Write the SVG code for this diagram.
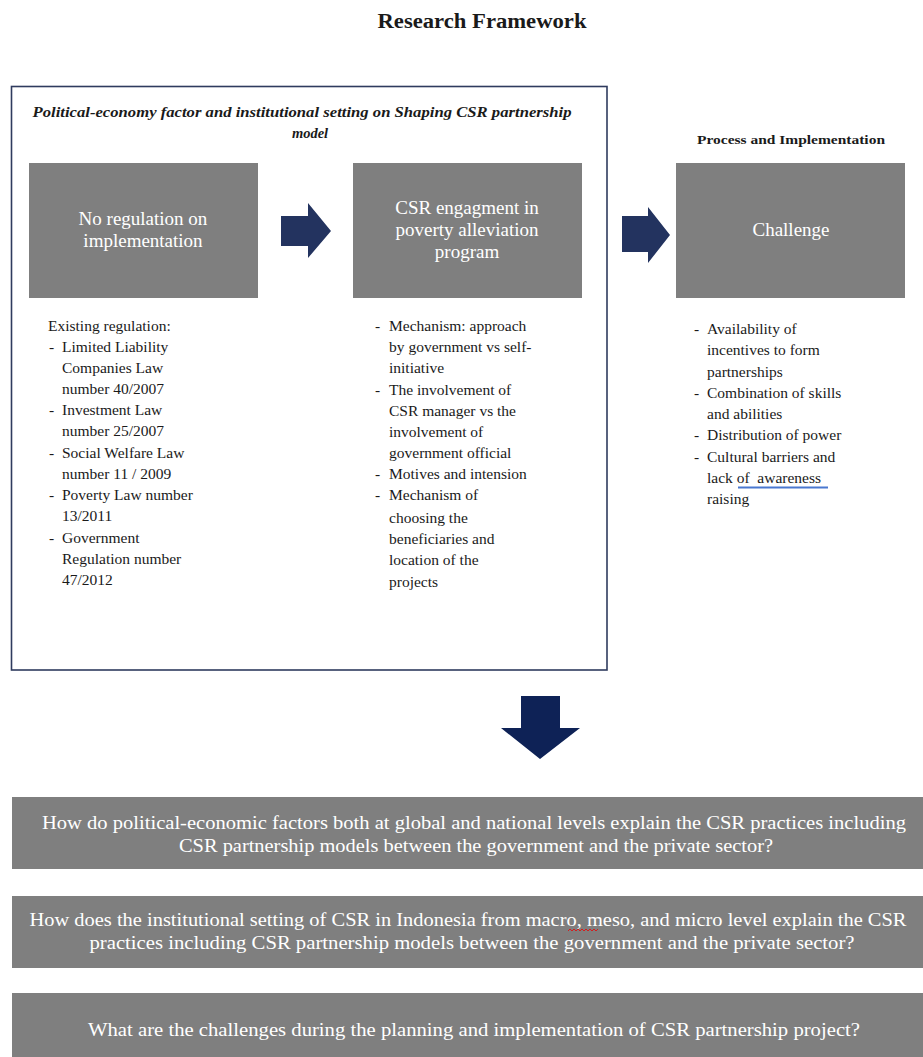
<svg xmlns="http://www.w3.org/2000/svg" width="923" height="1057" viewBox="0 0 923 1057" font-family="'Liberation Serif', 'DejaVu Serif', serif">
<style>
text{font-family:"Liberation Serif","DejaVu Serif",serif}
.t{fill:#1a1a1a}
.w{fill:#ffffff}
.box{fill:#7f7f7f}
.li{font-size:15.5px}
.bx{font-size:19px}
.q{font-size:18.5px}
.arr{fill:#23335f}
</style>
<rect width="923" height="1057" fill="#ffffff"/>
<text class="t" x="482" y="28" font-size="20" font-weight="bold" text-anchor="middle" textLength="209" lengthAdjust="spacingAndGlyphs">Research Framework</text>

<g id="frame">
<rect x="11.5" y="86.5" width="595.5" height="583.5" fill="none" stroke="#2f3b5e" stroke-width="1.6"/>
<text class="t" x="302" y="117" font-size="14.5" font-weight="bold" font-style="italic" text-anchor="middle" textLength="539" lengthAdjust="spacingAndGlyphs">Political-economy factor and institutional setting on Shaping CSR partnership</text>
<text class="t" x="310" y="138" font-size="14.5" font-weight="bold" font-style="italic" text-anchor="middle">model</text>
</g>

<text class="t" x="791" y="144" font-size="13.5" font-weight="bold" text-anchor="middle" textLength="188" lengthAdjust="spacingAndGlyphs">Process and Implementation</text>

<g id="node-regulation">
<rect class="box" x="29" y="163" width="229" height="135"/>
<text class="w bx" x="143" y="225" text-anchor="middle">No regulation on</text>
<text class="w bx" x="143" y="247" text-anchor="middle">implementation</text>
</g>

<g id="node-engagement">
<rect class="box" x="353" y="163" width="229" height="135"/>
<text class="w bx" x="467" y="214" text-anchor="middle">CSR engagment in</text>
<text class="w bx" x="467" y="236" text-anchor="middle">poverty alleviation</text>
<text class="w bx" x="467" y="258" text-anchor="middle">program</text>
</g>

<g id="node-challenge">
<rect class="box" x="676" y="163" width="229" height="135"/>
<text class="w bx" x="791" y="236" text-anchor="middle">Challenge</text>
</g>

<g id="list-regulation">
<text class="t li" x="48" y="331">Existing regulation:</text>
<text class="t li" x="49" y="352">-</text><text class="t li" x="62" y="352">Limited Liability</text>
<text class="t li" x="62" y="373">Companies Law</text>
<text class="t li" x="62" y="394">number 40/2007</text>
<text class="t li" x="49" y="415">-</text><text class="t li" x="62" y="415">Investment Law</text>
<text class="t li" x="62" y="436">number 25/2007</text>
<text class="t li" x="49" y="458">-</text><text class="t li" x="62" y="458">Social Welfare Law</text>
<text class="t li" x="62" y="479">number 11 / 2009</text>
<text class="t li" x="49" y="500">-</text><text class="t li" x="62" y="500">Poverty Law number</text>
<text class="t li" x="62" y="521">13/2011</text>
<text class="t li" x="49" y="543">-</text><text class="t li" x="62" y="543">Government</text>
<text class="t li" x="62" y="564">Regulation number</text>
<text class="t li" x="62" y="585">47/2012</text>
</g>

<g id="list-engagement">
<text class="t li" x="375" y="331">-</text><text class="t li" x="389" y="331">Mechanism: approach</text>
<text class="t li" x="389" y="352">by government vs self-</text>
<text class="t li" x="389" y="373">initiative</text>
<text class="t li" x="375" y="395">-</text><text class="t li" x="389" y="395">The involvement of</text>
<text class="t li" x="389" y="416">CSR manager vs the</text>
<text class="t li" x="389" y="437">involvement of</text>
<text class="t li" x="389" y="458">government official</text>
<text class="t li" x="375" y="479">-</text><text class="t li" x="389" y="479">Motives and intension</text>
<text class="t li" x="375" y="500">-</text><text class="t li" x="389" y="500">Mechanism of</text>
<text class="t li" x="389" y="523">choosing the</text>
<text class="t li" x="389" y="544">beneficiaries and</text>
<text class="t li" x="389" y="565">location of the</text>
<text class="t li" x="389" y="587">projects</text>
</g>

<g id="list-challenge">
<text class="t li" x="694" y="334">-</text><text class="t li" x="707" y="334">Availability of</text>
<text class="t li" x="707" y="355">incentives to form</text>
<text class="t li" x="707" y="377">partnerships</text>
<text class="t li" x="694" y="398">-</text><text class="t li" x="707" y="398">Combination of skills</text>
<text class="t li" x="707" y="419">and abilities</text>
<text class="t li" x="694" y="440">-</text><text class="t li" x="707" y="440">Distribution of power</text>
<text class="t li" x="694" y="462">-</text><text class="t li" x="707" y="462">Cultural barriers and</text>
<text class="t li" x="707" y="483" xml:space="preserve">lack of  awareness</text>
<text class="t li" x="707" y="504">raising</text>
<line x1="738" y1="487.5" x2="828" y2="487.5" stroke="#4a78d0" stroke-width="2"/>
</g>

<g id="connectors">
<polygon class="arr" points="281,216 308,216 308,203 331,231 308,258 308,246 281,246"/>
<polygon class="arr" points="622,216 648,216 648,207 670,235 648,263 648,252 622,252"/>
<polygon fill="#0e2256" points="521,696 560,696 560,728 580,728 540,759 501,728 521,728"/>
</g>

<g id="question-1">
<rect class="box" x="12" y="797" width="911" height="72"/>
<text class="w q" x="474" y="829" text-anchor="middle" textLength="864" lengthAdjust="spacingAndGlyphs">How do political-economic factors both at global and national levels explain the CSR practices including</text>
<text class="w q" x="476" y="852" text-anchor="middle" textLength="594" lengthAdjust="spacingAndGlyphs">CSR partnership models between the government and the private sector?</text>
</g>

<g id="question-2">
<rect class="box" x="12" y="896" width="911" height="72"/>
<text class="w q" x="468" y="926" text-anchor="middle" textLength="877" lengthAdjust="spacingAndGlyphs">How does the institutional setting of CSR in Indonesia from macro, meso, and micro level explain the CSR</text>
<text class="w q" x="472" y="949" text-anchor="middle" textLength="765" lengthAdjust="spacingAndGlyphs">practices including CSR partnership models between the government and the private sector?</text>
<polyline points="568,931 570,929 572,931 574,929 576,931 578,929 580,931 582,929 584,931 586,929 588,931 590,929 592,931 594,929 596,931 598,929" fill="none" stroke="#d02020" stroke-width="1"/>
</g>

<g id="question-3">
<rect class="box" x="12" y="993" width="911" height="64"/>
<text class="w q" x="474" y="1036" text-anchor="middle" textLength="772" lengthAdjust="spacingAndGlyphs">What are the challenges during the planning and implementation of CSR partnership project?</text>
</g>
</svg>
